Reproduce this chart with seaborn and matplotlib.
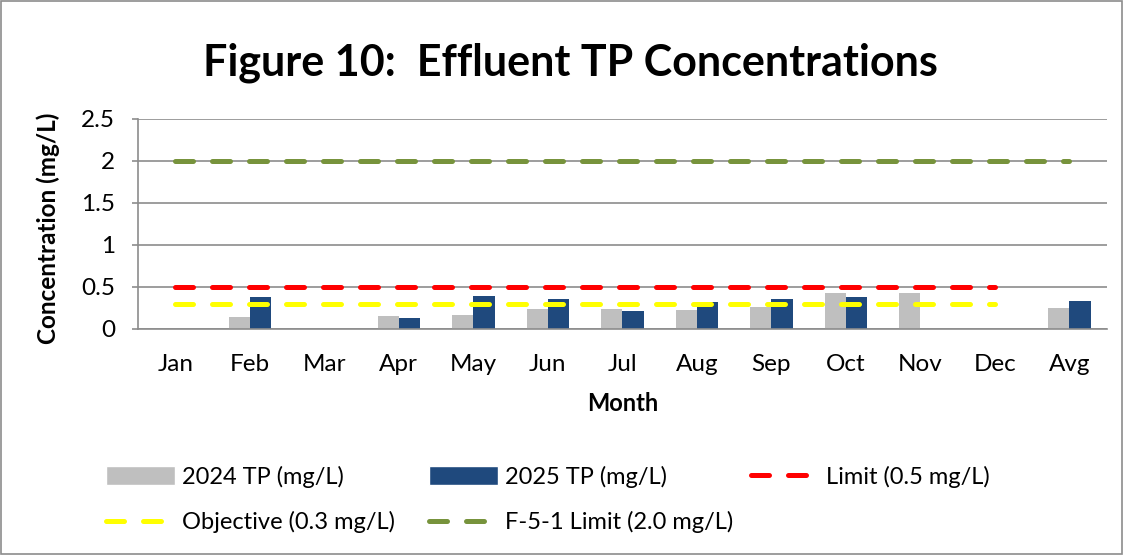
import numpy as np
import pandas as pd
import matplotlib.pyplot as plt
import seaborn as sns
from matplotlib.patches import Patch, Rectangle
from matplotlib.lines import Line2D

months = ["Jan", "Feb", "Mar", "Apr", "May", "Jun", "Jul", "Aug", "Sep", "Oct", "Nov", "Dec", "Avg"]
tp_2024 = [np.nan, 0.14, np.nan, 0.15, 0.16, 0.24, 0.24, 0.22, 0.26, 0.43, 0.42, np.nan, 0.25]
tp_2025 = [np.nan, 0.38, np.nan, 0.13, 0.39, 0.35, 0.21, 0.32, 0.35, 0.38, np.nan, np.nan, 0.33]
limit = [0.5, 0.5, 0.5, 0.5, 0.5, 0.5, 0.5, 0.5, 0.5, 0.5, 0.5, 0.5, np.nan]
objective = [0.3, 0.3, 0.3, 0.3, 0.3, 0.3, 0.3, 0.3, 0.3, 0.3, 0.3, 0.3, np.nan]
f51_limit = [2.0, 2.0, 2.0, 2.0, 2.0, 2.0, 2.0, 2.0, 2.0, 2.0, 2.0, 2.0, 2.0]

bar_names = ["2024 TP (mg/L)", "2025 TP (mg/L)"]
bar_colors = ["#BFBFBF", "#1F497D"]
GRID = "#8C8C8C"

sns.set_theme(style="white")
plt.rcParams["font.family"] = ["Lato", "DejaVu Sans"]
plt.rcParams["text.color"] = "black"
plt.rcParams["axes.labelcolor"] = "black"
plt.rcParams["xtick.color"] = "black"
plt.rcParams["ytick.color"] = "black"

df = pd.DataFrame({"Month": months * 2,
                   "Series": [bar_names[0]] * len(months) + [bar_names[1]] * len(months),
                   "Value": tp_2024 + tp_2025}).dropna()

fig = plt.figure(figsize=(11.25, 5.55), dpi=100)
ax = fig.add_axes([0.1227, 0.4077, 0.861, 0.378])

sns.barplot(data=df, x="Month", y="Value", hue="Series", order=months,
            hue_order=bar_names, palette=bar_colors, width=0.57, gap=0,
            errorbar=None, legend=False, ax=ax, saturation=1, linewidth=0)

xpos = np.arange(len(months))
dash = (3.6, 3.8)
line_specs = [("Limit (0.5 mg/L)", limit, "#FF0000"),
              ("Objective (0.3 mg/L)", objective, "#FFFF00"),
              ("F-5-1 Limit (2.0 mg/L)", f51_limit, "#77933C")]
for name, vals, col in line_specs:
    sns.lineplot(x=xpos, y=vals, color=col, linewidth=3.6, ax=ax,
                 linestyle=(0, dash), dash_capstyle="round")

ax.set_ylim(0, 2.5)
ax.set_yticks([0, 0.5, 1, 1.5, 2, 2.5])
ax.set_yticklabels(["0", "0.5", "1", "1.5", "2", "2.5"])
ax.set_xlim(-0.5, len(months) - 0.5)
ax.set_xticks(xpos)
ax.set_xticklabels(months)
ax.set_xticks(np.arange(-0.5, len(months), 1), minor=True)
ax.tick_params(axis="x", which="major", length=0, pad=18, labelsize=17.5)
ax.tick_params(axis="x", which="minor", length=12, width=1.2, color=GRID, direction="out")
ax.tick_params(axis="y", length=4.5, width=1.2, color=GRID, labelcolor="black",
               pad=12, labelsize=17.5, left=True)
ax.grid(axis="y", color=GRID, linewidth=1.2)
ax.set_axisbelow(True)
for s in ["top", "right"]:
    ax.spines[s].set_visible(False)
for s in ["left", "bottom"]:
    ax.spines[s].set_color(GRID)
    ax.spines[s].set_linewidth(1.2)

ax.set_xlabel("Month", fontsize=17, fontweight="bold")
ax.set_ylabel("Concentration (mg/L)", fontsize=17.5, fontweight="bold")
ax.xaxis.set_label_coords(0.5, -0.30)
ax.yaxis.set_label_coords(-0.081, 0.48)

fig.suptitle("Figure 10:  Effluent TP Concentrations", x=0.507, y=0.923,
             fontsize=31, fontweight="bold")

# legend in three columns, placed like the original
h_2024 = Patch(facecolor=bar_colors[0])
h_2025 = Patch(facecolor=bar_colors[1])
h_lines = [Line2D([], [], color=c, linewidth=3.6, linestyle=(0, dash), dash_capstyle="round")
           for _, _, c in line_specs]
cols = [([h_2024, h_lines[1]], [bar_names[0], line_specs[1][0]], 0.086),
        ([h_2025, h_lines[2]], [bar_names[1], line_specs[2][0]], 0.373),
        ([h_lines[0]], [line_specs[0][0]], 0.659)]
for handles, labels, x0 in cols:
    fig.legend(handles, labels, loc="upper left", bbox_to_anchor=(x0, 0.178),
               frameon=False, fontsize=17, handlelength=2.9, handleheight=0.85,
               handletextpad=0.3, labelspacing=1.0, borderaxespad=0)

fig.add_artist(Rectangle((0.001, 0.002), 0.996, 0.996, transform=fig.transFigure,
                         fill=False, edgecolor="#8C8C8C", linewidth=1.2))

fig.savefig("out.png", dpi=100)
